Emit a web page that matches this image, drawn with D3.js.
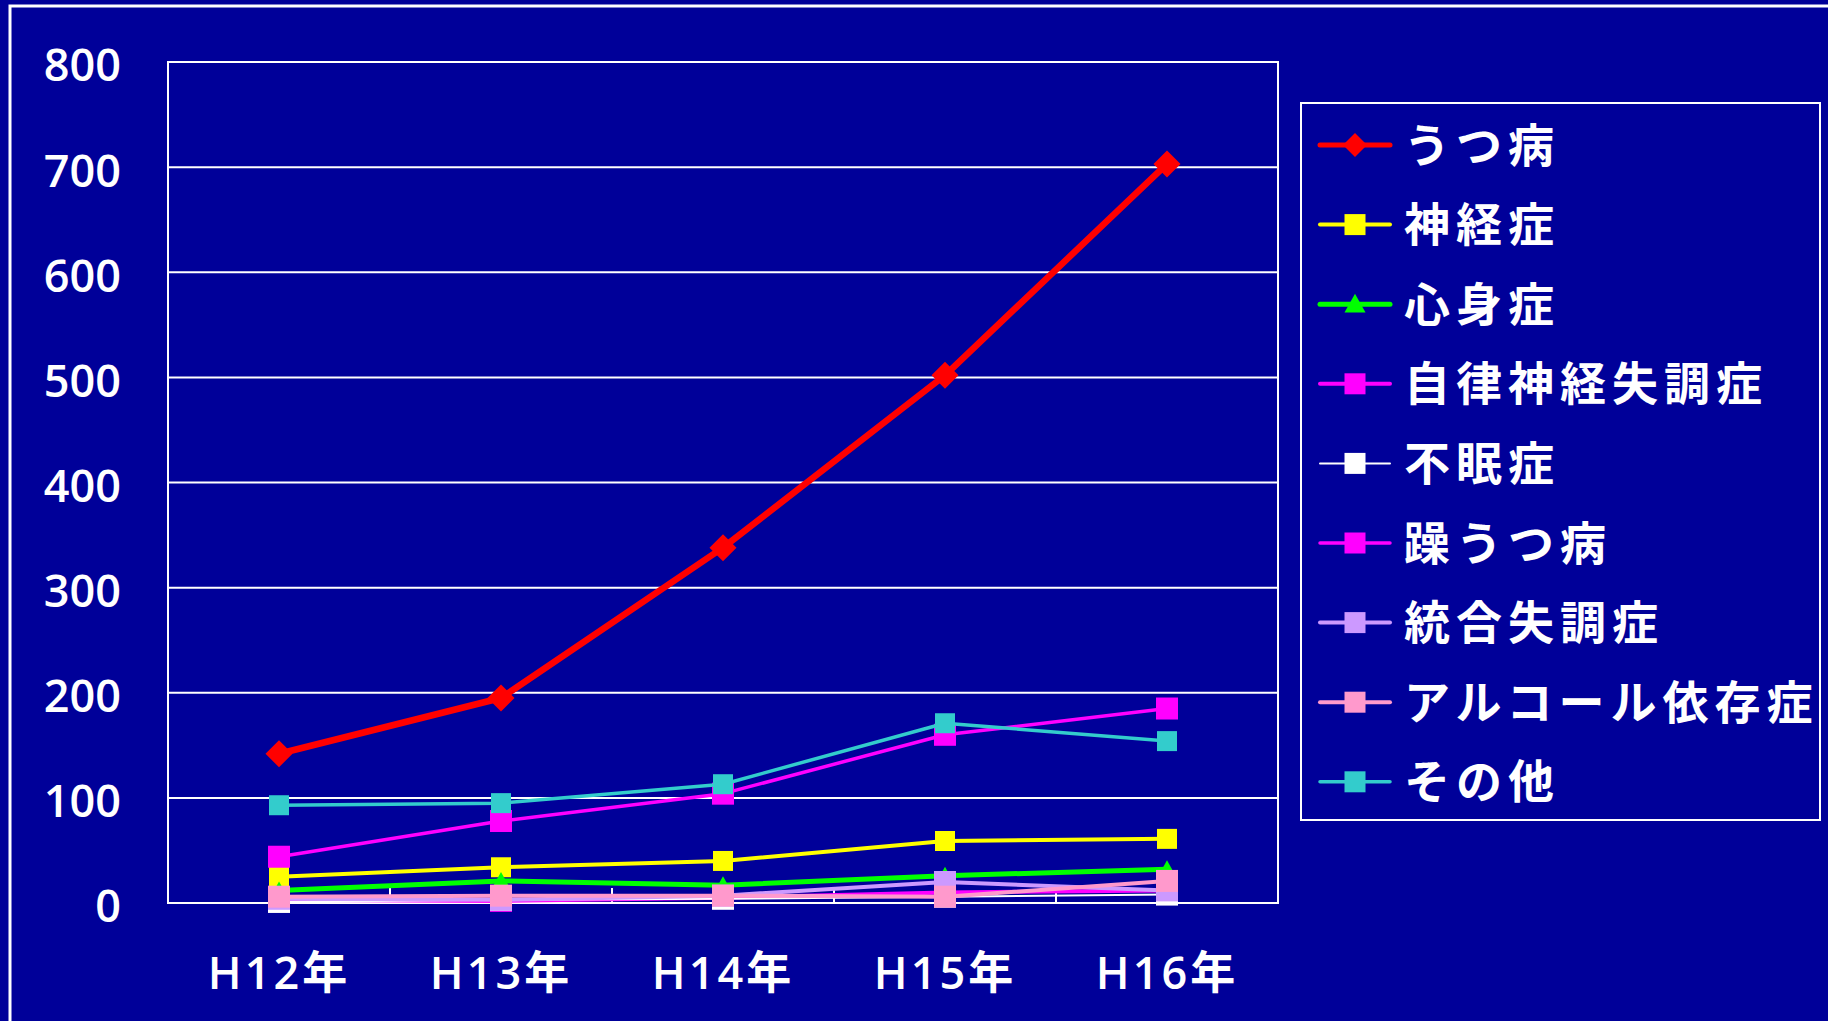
<!DOCTYPE html>
<html>
<head>
<meta charset="utf-8">
<script src="https://cdn.jsdelivr.net/npm/d3@7"></script>
<style>
  html, body { margin: 0; padding: 0; background: #000099; }
  svg { display: block; }
  text { fill: #fff; }
</style>
</head>
<body>
<svg id="chart" width="1828" height="1021"></svg>
<script>
// Years on the x axis
const years = ["H12年", "H13年", "H14年", "H15年", "H16年"];
// Y-axis tick values
const yTicks = [0, 100, 200, 300, 400, 500, 600, 700, 800];

// Series names (legend order)
const seriesNames = ["うつ病", "神経症", "心身症", "自律神経失調症", "不眠症", "躁うつ病", "統合失調症", "アルコール依存症", "その他"];

// Counts per year for each series
const depression      = [142, 195, 338, 502, 703];
const neurosis        = [25, 34, 40, 59, 61];
const psychosomatic   = [12, 21, 17, 26, 32];
const autonomic       = [3, 2, 5, 10, 12];
const insomnia        = [1, 3, 4, 6, 8];
const bipolar         = [44, 78, 104, 160, 185];
const schizophrenia   = [4, 3, 7, 20, 12];
const alcohol         = [6, 7, 7, 6, 21];
const other           = [93, 95, 113, 171, 154];

const seriesValues = [depression, neurosis, psychosomatic, autonomic, insomnia, bipolar, schizophrenia, alcohol, other];

// Presentation for each series
const styles = [
  { color: "#FF0000", width: 6.5, shape: "diamond",  size: 27 },
  { color: "#FFFF00", width: 4,   shape: "square",   size: 20 },
  { color: "#00FF00", width: 5,   shape: "triangle", size: 18 },
  { color: "#FF00FF", width: 4,   shape: "square",   size: 22 },
  { color: "#FFFFFF", width: 2,   shape: "square",   size: 22 },
  { color: "#FF00FF", width: 3.5, shape: "square",   size: 22 },
  { color: "#CC99FF", width: 4,   shape: "square",   size: 22 },
  { color: "#FF99CC", width: 4,   shape: "square",   size: 22 },
  { color: "#33CCCC", width: 3.5, shape: "square",   size: 20 }
];

const svg = d3.select("#chart");
const W = 1828, H = 1021;
const plot = { left: 168, right: 1278, top: 62, bottom: 903 };
const fontNum = "'Open Sans', 'Noto Sans', 'Noto Sans CJK JP', sans-serif";
const fontCJK = "'Noto Sans CJK JP', 'Noto Sans CJK SC', sans-serif";

svg.append("rect").attr("width", W).attr("height", H).attr("fill", "#000099");
// Slide frame
svg.append("rect")
  .attr("x", 10).attr("y", 6).attr("width", W + 40).attr("height", H + 40)
  .attr("fill", "none").attr("stroke", "#fff").attr("stroke-width", 3);

const x = d3.scaleBand().domain(years).range([plot.left, plot.right]).padding(0);
const y = d3.scaleLinear().domain([0, 800]).range([plot.bottom, plot.top]);
const cx = d => x(d) + x.bandwidth() / 2;

// Horizontal gridlines
svg.append("g").selectAll("line").data(yTicks).join("line")
  .attr("x1", plot.left).attr("x2", plot.right)
  .attr("y1", d => y(d)).attr("y2", d => y(d))
  .attr("stroke", "#fff").attr("stroke-width", 2);

// Plot border
svg.append("rect")
  .attr("x", plot.left).attr("y", plot.top)
  .attr("width", plot.right - plot.left).attr("height", plot.bottom - plot.top)
  .attr("fill", "none").attr("stroke", "#fff").attr("stroke-width", 2);

// Y axis labels
const yAxis = svg.append("g")
  .attr("transform", `translate(${plot.left},0)`)
  .call(d3.axisLeft(y).tickValues(yTicks).tickSize(0).tickPadding(47));
yAxis.select(".domain").remove();
yAxis.selectAll("text")
  .attr("fill", "#fff")
  .attr("dy", "0.42em")
  .style("font-family", fontNum).style("font-weight", "600").style("font-size", "45px");

// X axis: inner tick marks at band boundaries, labels below
const xAxis = svg.append("g")
  .attr("transform", `translate(0,${plot.bottom})`)
  .call(d3.axisBottom(x).tickSize(0).tickPadding(54));
xAxis.select(".domain").remove();
xAxis.selectAll("text")
  .attr("fill", "#fff")
  .style("font-family", fontNum).style("font-weight", "600").style("font-size", "45px")
  .style("letter-spacing", "3px");

svg.append("g").selectAll("line").data(years.slice(1)).join("line")
  .attr("x1", d => x(d)).attr("x2", d => x(d))
  .attr("y1", plot.bottom).attr("y2", plot.bottom - 15)
  .attr("stroke", "#fff").attr("stroke-width", 2);

// Marker path builder
function markerPath(shape, s) {
  const h = s / 2;
  if (shape === "diamond") return `M0,${-h}L${h},0L0,${h}L${-h},0Z`;
  if (shape === "triangle") return `M0,${-h}L${h},${h * 0.8}L${-h},${h * 0.8}Z`;
  return `M${-h},${-h}H${h}V${h}H${-h}Z`;
}

const line = d3.line().x(d => cx(d.year)).y(d => y(d.value));

seriesValues.forEach((vals, i) => {
  const st = styles[i];
  const pts = years.map((yr, j) => ({ year: yr, value: vals[j] }));
  const g = svg.append("g");
  g.append("path").datum(pts)
    .attr("d", line)
    .attr("fill", "none").attr("stroke", st.color)
    .attr("stroke-width", st.width).attr("stroke-linejoin", "round");
  g.selectAll("path.m").data(pts).join("path").attr("class", "m")
    .attr("transform", d => `translate(${cx(d.year)},${y(d.value)})`)
    .attr("d", markerPath(st.shape, st.size))
    .attr("fill", st.color);
});

// Legend
const legend = { x: 1301, y: 103, w: 519, h: 717, first: 145, step: 79.6 };
svg.append("rect")
  .attr("x", legend.x).attr("y", legend.y).attr("width", legend.w).attr("height", legend.h)
  .attr("fill", "#000099").attr("stroke", "#fff").attr("stroke-width", 2);

const lg = svg.append("g").selectAll("g").data(seriesNames).join("g")
  .attr("transform", (d, i) => `translate(0,${legend.first + i * legend.step})`);
lg.append("line")
  .attr("x1", 1320).attr("x2", 1390).attr("y1", 0).attr("y2", 0)
  .attr("stroke", (d, i) => styles[i].color)
  .attr("stroke-width", (d, i) => Math.min(styles[i].width, 5))
  .attr("stroke-linecap", "round");
lg.append("path")
  .attr("transform", "translate(1355,0)")
  .attr("d", (d, i) => markerPath(styles[i].shape, styles[i].shape === "diamond" ? 24 : 21))
  .attr("fill", (d, i) => styles[i].color);
lg.append("text")
  .attr("x", 1404).attr("y", 0).attr("dy", "0.36em")
  .style("font-family", fontCJK).style("font-weight", "bold").style("font-size", "46px")
  .style("letter-spacing", "6px")
  .text(d => d);
</script>
</body>
</html>
